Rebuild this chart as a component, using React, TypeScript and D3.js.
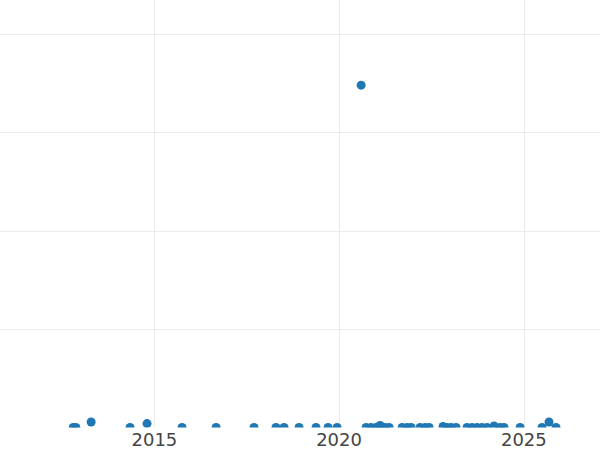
import React from "react";
import * as d3 from "d3";

const dates: string[] = [
  "2012-10-20", "2012-11-15", "2013-04-15", "2014-05-05", "2014-10-20",
  "2015-10-01", "2016-09-02", "2017-09-12", "2018-04-17", "2018-07-06",
  "2018-12-01", "2019-05-18", "2019-09-14", "2019-12-12", "2020-08-06",
  "2020-09-24", "2020-11-12", "2021-01-01", "2021-02-10", "2021-03-31",
  "2021-05-10", "2021-09-15", "2021-11-03", "2021-12-13", "2022-03-12",
  "2022-04-30", "2022-06-09", "2022-10-25", "2022-12-03", "2023-01-12",
  "2023-03-03", "2023-06-19", "2023-08-07", "2023-09-26", "2023-11-14",
  "2024-01-03", "2024-03-13", "2024-05-11", "2024-06-19", "2024-11-25",
  "2025-06-30", "2025-09-07", "2025-11-15",
];

const values: number[] = [
  0, 0, 2.8, 0, 2,
  0, 0, 0, 0, 0,
  0, 0, 0, 0, 174,
  0, 0, 0, 1, 0,
  0, 0, 0, 0, 0,
  0, 0, 0.5, 0, 0,
  0, 0, 0, 0, 0,
  0, 0.8, 0, 0, 0,
  0, 2.8, 0,
];

const yTicks: number[] = [50, 100, 150, 200];
const xDomain: string[] = ["2010-10-27", "2027-01-24"];
const yDomainMax = 217.3;

export default function App() {
  const W = 600;
  const H = 450;
  const plotBottom = 427.5;
  const parse = d3.timeParse("%Y-%m-%d");
  const x = d3
    .scaleTime()
    .domain([parse(xDomain[0])!, parse(xDomain[1])!])
    .range([0, W]);
  const y = d3.scaleLinear().domain([0, yDomainMax]).range([plotBottom, 0]);
  const xTicks = x.ticks(d3.timeYear.every(5)!);
  const fmt = d3.timeFormat("%Y");
  const pts = dates.map((d, i) => ({ d: parse(d)!, v: values[i] }));

  return (
    <svg
      width={W}
      height={H}
      style={{ position: "absolute", left: 0, top: 0, background: "#fff" }}
    >
      <defs>
        <clipPath id="plotclip">
          <rect x={0} y={0} width={W} height={plotBottom} />
        </clipPath>
      </defs>
      <g>
        {yTicks.map((t) => (
          <line
            key={"y" + t}
            x1={0}
            x2={W}
            y1={Math.round(y(t)) + 0.5}
            y2={Math.round(y(t)) + 0.5}
            stroke="#ebebeb"
            strokeWidth={1}
          />
        ))}
        {xTicks.map((t) => (
          <line
            key={"x" + +t}
            x1={Math.round(x(t)) + 0.5}
            x2={Math.round(x(t)) + 0.5}
            y1={0}
            y2={plotBottom}
            stroke="#ebebeb"
            strokeWidth={1}
          />
        ))}
      </g>
      <g clipPath="url(#plotclip)">
        {pts.map((p, i) => (
          <circle
            key={i}
            cx={x(p.d)}
            cy={y(p.v)}
            r={4.5}
            fill="#1f77b4"
          />
        ))}
      </g>
      <g>
        {xTicks.map((t) => (
          <text
            key={"l" + +t}
            x={x(t)}
            y={445.5}
            textAnchor="middle"
            fontFamily="'DejaVu Sans', Verdana, sans-serif"
            fontSize={18}
            fill="#444"
          >
            {fmt(t)}
          </text>
        ))}
      </g>
    </svg>
  );
}
